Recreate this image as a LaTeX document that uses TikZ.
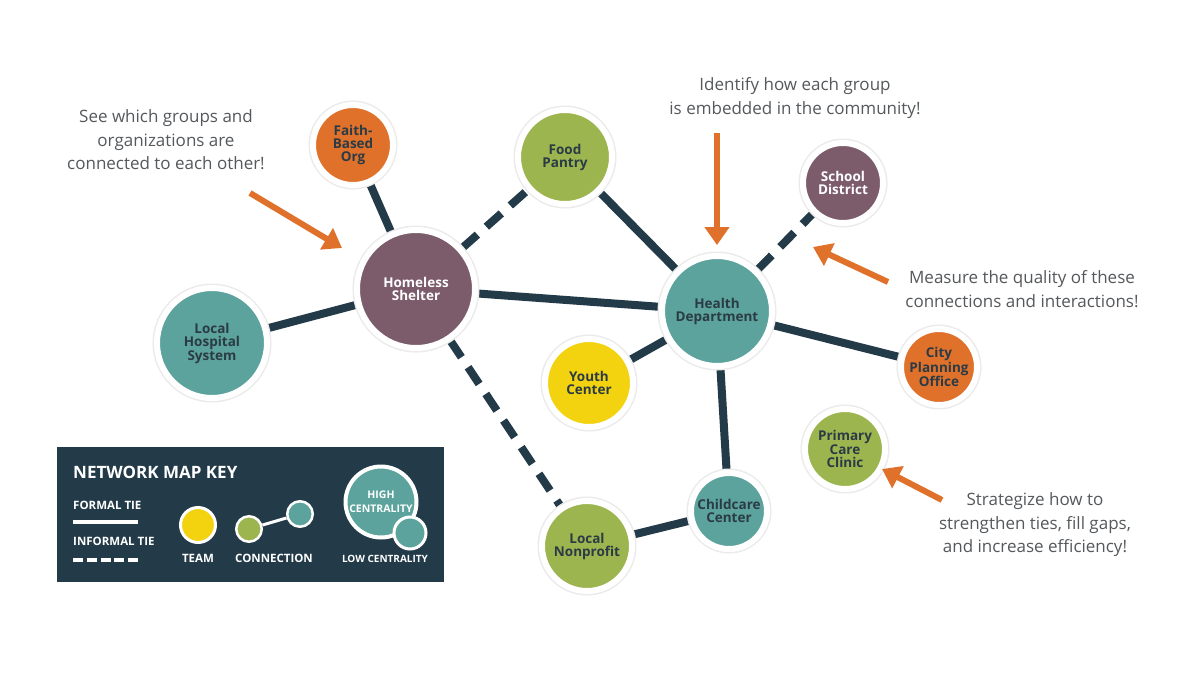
\documentclass[tikz,border=0pt]{standalone}
\usepackage{fontspec}
\setmainfont{Open Sans}
\usetikzlibrary{arrows.meta,backgrounds}
\definecolor{navy}{HTML}{233A48}
\definecolor{tealc}{HTML}{5BA39C}
\definecolor{greenc}{HTML}{9CB54F}
\definecolor{purplec}{HTML}{7C5B6B}
\definecolor{orangec}{HTML}{E0712A}
\definecolor{yellowc}{HTML}{F3D30F}
\definecolor{txtdark}{HTML}{2B3B45}
\definecolor{annot}{HTML}{55595C}
\tikzset{
  org/.style={circle, draw=white, line width=6pt, inner sep=0pt, align=center,
    font=\fontsize{13.5}{13}\selectfont\bfseries, text=txtdark,
    preaction={draw=black!8, line width=9pt}},
  formal/.style={draw=navy, line width=8pt},
  informal/.style={draw=navy, line width=8pt, dash pattern=on 20pt off 12pt},
  callout/.style={-{Triangle[length=18pt,width=24pt]}, draw=orangec, line width=6pt},
  note/.style={align=center, text=annot, font=\fontsize{17}{23.5}\selectfont},
  keytxt/.style={text=white, font=\fontsize{11.5}{13}\selectfont\bfseries, inner sep=0pt},
  keydot/.style={circle, draw=white, inner sep=0pt}
}
\begin{document}
\begin{tikzpicture}[x=1pt,y=-1pt]
\useasboundingbox (0,0) rectangle (1200,675);

% organisations
\node[org, fill=orangec, minimum size=80pt] (fbo) at (353,145) {Faith-\\Based\\Org};
\node[org, fill=purplec, text=white, minimum size=118pt] (hs) at (416,289) {Homeless\\Shelter};
\node[org, fill=greenc, minimum size=94pt] (fp) at (565,157) {Food\\Pantry};
\node[org, fill=purplec, text=white, minimum size=80pt] (sd) at (843,183) {School\\District};
\node[org, fill=tealc, minimum size=110pt] (hd) at (717,311) {Health\\Department};
\node[org, fill=orangec, minimum size=76pt] (cpo) at (939,367) {City\\Planning\\Office};
\node[org, fill=tealc, minimum size=110pt] (lhs) at (212,343) {Local\\Hospital\\System};
\node[org, fill=yellowc, minimum size=88pt] (yc) at (589,383) {Youth\\Center};
\node[org, fill=greenc, minimum size=80pt] (pcc) at (845,449) {Primary\\Care\\Clinic};
\node[org, fill=tealc, minimum size=76pt] (cc) at (729,511) {Childcare\\Center};
\node[org, fill=greenc, minimum size=90pt] (ln) at (587,546) {Local\\Nonprofit};

% ties
\begin{scope}[on background layer]
\fill[white] (0,0) rectangle (1200,675);
\draw[formal] (fbo) -- (hs);
\draw[informal] (hs) -- (fp);
\draw[formal] (fp) -- (hd);
\draw[formal] (hs) -- (hd);
\draw[formal] (hs) -- (lhs);
\draw[informal] (hs) -- (ln);
\draw[informal] (hd) -- (sd);
\draw[formal] (hd) -- (yc);
\draw[formal] (hd) -- (cpo);
\draw[formal] (hd) -- (cc);
\draw[formal] (cc) -- (ln);
\end{scope}

% notes
\node[note] (n1) at (166,140) {See which groups and\\organizations are\\connected to each other!};
\node[note] (n2) at (795,98) {Identify how each group\\is embedded in the community!};
\node[note] (n3) at (1022,289) {Measure the quality of these\\connections and interactions!};
\node[note] (n4) at (1035,525) {Strategize how to\\strengthen ties, fill gaps,\\and increase efficiency!};

% callout arrows
\coordinate (a1s) at (250,193); \coordinate (a1e) at (342,248);
\coordinate (a2s) at (717,133); \coordinate (a2e) at (717,245);
\coordinate (a3s) at (888,282); \coordinate (a3e) at (813,247);
\coordinate (a4s) at (942,500); \coordinate (a4e) at (882,469);
\draw[callout] (a1s) -- (a1e);
\draw[callout] (a2s) -- (a2e);
\draw[callout] (a3s) -- (a3e);
\draw[callout] (a4s) -- (a4e);

% key
\fill[navy] (57,447) rectangle (444,582);
\node[keytxt, anchor=west, font=\fontsize{17}{19}\selectfont\bfseries] (ktitle) at (73,472) {NETWORK MAP KEY};
\node[keytxt, anchor=west] (kformal) at (73,505) {FORMAL TIE};
\coordinate (kf1) at (73,522); \coordinate (kf2) at (138,522);
\draw[white, line width=4pt] (kf1) -- (kf2);
\node[keytxt, anchor=west] (kinformal) at (73,541) {INFORMAL TIE};
\coordinate (ki1) at (73,560); \coordinate (ki2) at (138,560);
\draw[white, line width=4pt, dash pattern=on 10pt off 3.75pt] (ki1) -- (ki2);
\node[keydot, fill=yellowc, line width=3pt, minimum size=35pt] (kteam) at (198,525) {};
\node[keytxt] (kteamt) at (198,558) {TEAM};
\node[keydot, fill=greenc, line width=2.5pt, minimum size=25.5pt] (kc1) at (249,529) {};
\node[keydot, fill=tealc, line width=2.5pt, minimum size=25.5pt] (kc2) at (300,514) {};
\draw[white, line width=3pt] (kc1) -- (kc2);
\node[keytxt] (kconn) at (274,558) {CONNECTION};
\node[keydot, fill=tealc, line width=4pt, minimum size=71pt, align=center, text=white,
  font=\fontsize{10.5}{14}\selectfont\bfseries] (khigh) at (381,502) {HIGH\\CENTRALITY};
\node[keydot, fill=tealc, line width=3pt, minimum size=32pt] (klow) at (410,533) {};
\node[keytxt, font=\fontsize{10}{12}\selectfont\bfseries] (klowt) at (385,559) {LOW CENTRALITY};
\end{tikzpicture}
\end{document}
